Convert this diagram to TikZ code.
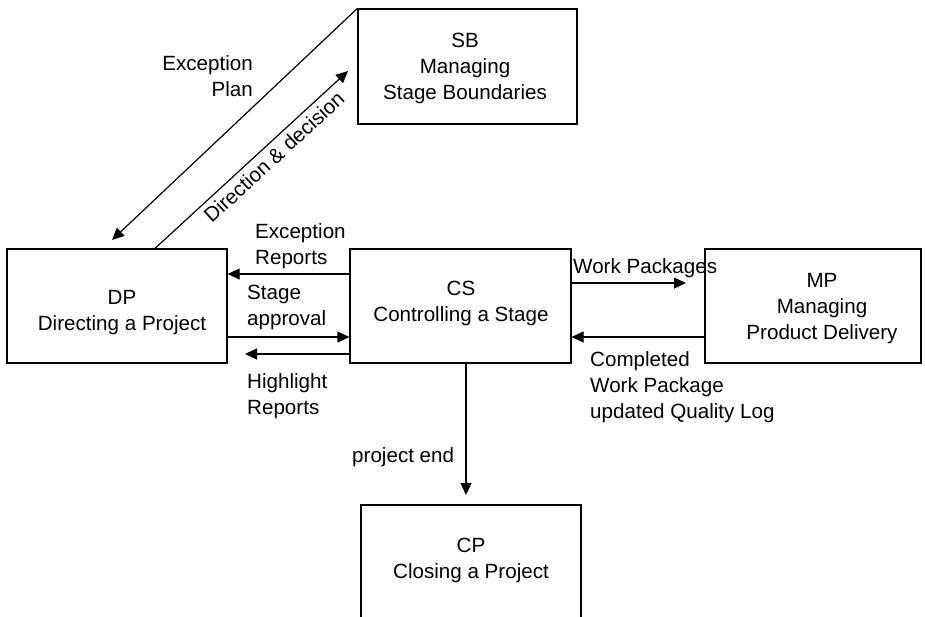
\documentclass[tikz,border=0pt]{standalone}
\usepackage{fontspec}
\setmainfont{Liberation Sans}
\usetikzlibrary{arrows.meta}
\begin{document}
\begin{tikzpicture}[x=1pt,y=-1pt,
  every node/.style={font={\fontsize{20.6}{26}\selectfont}},
  procbox/.style={draw, line width=1.2pt, rectangle, inner sep=0pt},
  boxtext/.style={anchor=north, inner sep=0pt, align=center},
  lbl/.style={inner sep=0pt},
  flow/.style={line width=1.2pt, -{Triangle[length=12pt,width=11pt]}}]
  % page area
  \clip (0,0) rectangle (925,617);

  % process boxes
  \node[procbox, minimum width=219pt, minimum height=115pt] (sb) at (467.5,66.5) {};
  \node[procbox, minimum width=220pt, minimum height=114pt] (dp) at (117,306) {};
  \node[procbox, minimum width=221pt, minimum height=114pt] (cs) at (460.5,306) {};
  \node[procbox, minimum width=216pt, minimum height=114pt] (mp) at (813,306) {};
  \node[procbox, minimum width=220pt, minimum height=125pt] (cp) at (471,567.5) {};

  % box captions
  \node[boxtext] (sbtext) at (465,33) {SB\\Managing\\Stage Boundaries};
  \node[boxtext] (dptext) at (122,290) {DP\\Directing a Project};
  \node[boxtext] (cstext) at (461,281) {CS\\Controlling a Stage};
  \node[boxtext] (mptext) at (822,273) {MP\\Managing\\Product Delivery};
  \node[boxtext] (cptext) at (471,538) {CP\\Closing a Project};

  % free arrow ends
  \coordinate (eptip) at (112,240);
  \coordinate (ddtip) at (348,71);
  \coordinate (hrtip) at (245,354);
  \coordinate (wptip) at (686,283);
  \coordinate (petip) at (466,495);

  % connectors between DP and SB
  \draw[flow] (sb.north west) -- (eptip);
  \draw[flow] (dp.north -| 155,0) -- (ddtip)
    node[pos=0.57, sloped, below, inner sep=5pt] (ddlabel) {Direction \& decision};

  % connectors between CS and DP
  \draw[flow] (cs.west |- 0,274) -- (dp.east |- 0,274);
  \draw[flow] (dp.east |- 0,337) -- (cs.west |- 0,337);
  \draw[flow] (cs.west |- 0,354) -- (hrtip);

  % connectors between CS and MP
  \draw[flow] (cs.east |- 0,283) -- (wptip);
  \draw[flow] (mp.west |- 0,337) -- (cs.east |- 0,337);

  % CS to CP
  \draw[flow] (cs.south -| 466,0) -- (petip);

  % connector labels
  \node[lbl, anchor=north east, align=right] (eplabel) at (253,55) {Exception\\Plan};
  \node[lbl, anchor=north west, align=left] (erlabel) at (255,223) {Exception\\Reports};
  \node[lbl, anchor=north west, align=left] (salabel) at (247,285) {Stage\\approval};
  \node[lbl, anchor=north west, align=left] (hrlabel) at (247,373) {Highlight\\Reports};
  \node[lbl, anchor=north west] (wplabel) at (573,258) {Work Packages};
  \node[lbl, anchor=north west, align=left] (cwlabel) at (590,351) {Completed\\Work Package\\updated Quality Log};
  \node[lbl, anchor=north west] (pelabel) at (352,447) {project end};
\end{tikzpicture}
\end{document}
